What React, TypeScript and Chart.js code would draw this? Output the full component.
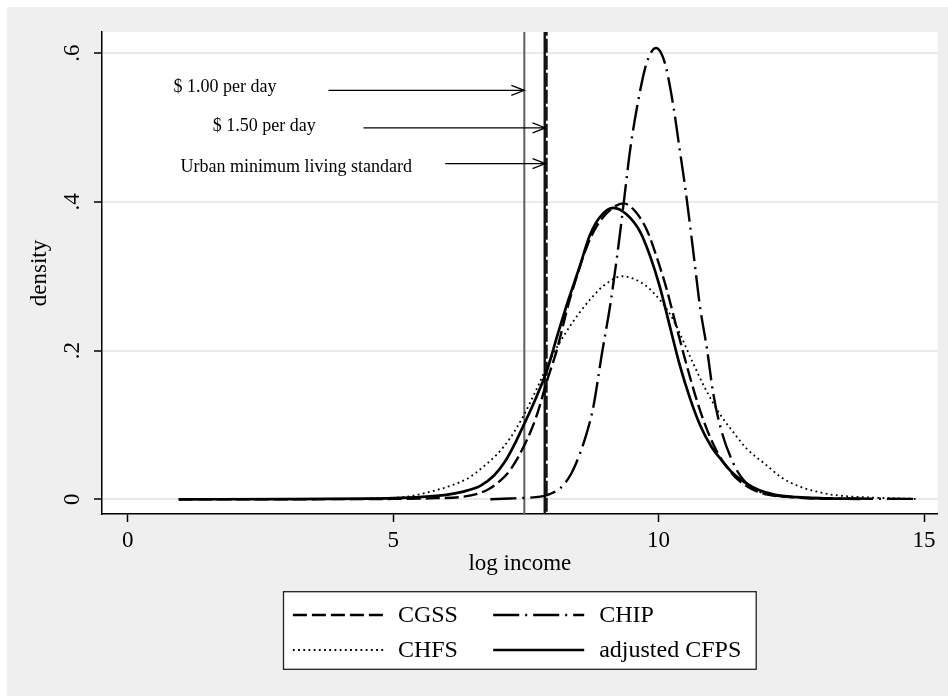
import React, { useEffect, useRef } from 'react';
import { Chart, registerables } from 'chart.js';

Chart.register(...registerables);

const FONT = '"Liberation Serif", "Times New Roman", serif';

// ---- data ----
const seriesLabels = ['CGSS', 'CHIP', 'CHFS', 'adjusted CFPS'];

const cgssX = [0.96, 3.0, 5.0, 5.8, 6.33, 6.77, 7.0, 7.2, 7.52, 7.7, 7.9, 8.08, 8.3, 8.46, 8.65, 8.84, 9.1, 9.34, 9.55, 9.78, 10.0, 10.15, 10.35, 10.53, 10.72, 10.91, 11.1, 11.28, 11.5, 11.75, 12.0, 12.5, 13.0, 13.5];
const cgssY = [0.0, 0.0001, 0.0005, 0.0015, 0.0035, 0.0125, 0.024, 0.039, 0.08, 0.112, 0.16, 0.2, 0.262, 0.3, 0.34, 0.368, 0.39, 0.398, 0.388, 0.362, 0.318, 0.283, 0.228, 0.18, 0.133, 0.094, 0.064, 0.044, 0.026, 0.014, 0.007, 0.003, 0.001, 0.0005];

const chipX = [6.83, 7.2, 7.5, 7.77, 7.95, 8.15, 8.35, 8.52, 8.65, 8.77, 8.93, 9.09, 9.24, 9.37, 9.46, 9.59, 9.75, 9.85, 9.95, 10.05, 10.14, 10.28, 10.39, 10.5, 10.65, 10.78, 10.91, 11.03, 11.18, 11.41, 11.6, 11.85, 12.2, 12.8, 13.5, 14.9];
const chipY = [0.0, 0.001, 0.002, 0.0035, 0.007, 0.015, 0.034, 0.062, 0.09, 0.124, 0.195, 0.262, 0.339, 0.415, 0.468, 0.526, 0.581, 0.6, 0.607, 0.6, 0.581, 0.528, 0.474, 0.42, 0.335, 0.259, 0.203, 0.142, 0.093, 0.048, 0.026, 0.012, 0.005, 0.002, 0.001, 0.0005];

const chfsX = [0.96, 4.0, 4.8, 5.26, 5.82, 6.15, 6.45, 6.7, 6.95, 7.2, 7.46, 7.7, 7.96, 8.25, 8.52, 8.75, 8.96, 9.31, 9.55, 9.78, 10.05, 10.28, 10.45, 10.65, 10.9, 11.16, 11.41, 11.66, 12.03, 12.3, 12.66, 13.0, 13.28, 13.8, 14.3, 14.9];
const chfsY = [0.0, 0.0005, 0.0015, 0.0035, 0.0125, 0.02, 0.03, 0.044, 0.06, 0.082, 0.113, 0.148, 0.188, 0.224, 0.252, 0.272, 0.287, 0.3, 0.296, 0.286, 0.266, 0.241, 0.215, 0.183, 0.146, 0.114, 0.09, 0.068, 0.046, 0.03, 0.017, 0.01, 0.006, 0.003, 0.0015, 0.0005];

const cfpsX = [0.96, 3.0, 4.5, 5.0, 5.5, 6.0, 6.3, 6.64, 6.9, 7.1, 7.3, 7.46, 7.7, 7.9, 8.1, 8.3, 8.5, 8.71, 8.9, 9.15, 9.4, 9.65, 9.85, 10.03, 10.2, 10.4, 10.6, 10.78, 11.0, 11.16, 11.4, 11.66, 11.9, 12.2, 12.6, 13.0, 13.8];
const cfpsY = [0.0, 0.0001, 0.0008, 0.0015, 0.003, 0.006, 0.01, 0.018, 0.032, 0.05, 0.076, 0.1, 0.138, 0.174, 0.222, 0.268, 0.31, 0.356, 0.38, 0.392, 0.383, 0.36, 0.325, 0.284, 0.236, 0.18, 0.134, 0.1, 0.07, 0.055, 0.035, 0.021, 0.012, 0.006, 0.003, 0.0015, 0.0005];

const xTicks = [0, 5, 10, 15];
const yTicks = [0, 0.2, 0.4, 0.6];
const yTickLabels = ['0', '.2', '.4', '.6'];

const povertyLineX = [7.47, 7.855, 7.89];

const annotationLabels = ['$ 1.00 per day', '$ 1.50 per day', 'Urban minimum living standard'];
const annotationTextX = [0.86, 1.6, 0.995];
const annotationTextY = [0.554, 0.502, 0.4465];
const arrowY = [0.55, 0.4995, 0.4515];
const arrowStartX = [3.78, 4.44, 5.98];
const arrowEndX = [7.47, 7.87, 7.87];

const xMin = -0.486;
const xMax = 15.258;
const yMin = -0.0198;
const yMax = 0.6285;

const toPoints = (xs: number[], ys: number[]) => xs.map((x, i) => ({ x, y: ys[i] }));

const bgPlugin = {
  id: 'bgPlugin',
  beforeDraw(chart: any) {
    const { ctx, chartArea: a, width, height } = chart;
    ctx.save();
    ctx.fillStyle = '#efefef';
    ctx.fillRect(0, 0, width, height);
    ctx.fillStyle = '#ffffff';
    ctx.fillRect(a.left, a.top, a.right - a.left, a.bottom - a.top);
    ctx.restore();
  },
};

const yLabelPlugin = {
  id: 'yLabelPlugin',
  afterDraw(chart: any) {
    const { ctx, chartArea: a } = chart;
    const ys = chart.scales.y;
    ctx.save();
    ctx.font = `23px ${FONT}`;
    ctx.fillStyle = '#000';
    ctx.textAlign = 'center';
    ctx.textBaseline = 'middle';
    yTicks.forEach((v, i) => {
      const py = ys.getPixelForValue(v);
      ctx.save();
      ctx.translate(a.left - 29, py);
      ctx.rotate(-Math.PI / 2);
      ctx.fillText(yTickLabels[i], 0, 0);
      ctx.restore();
    });
    ctx.restore();
  },
};

const annotationPlugin = {
  id: 'annotationPlugin',
  afterDatasetsDraw(chart: any) {
    const { ctx } = chart;
    const xs = chart.scales.x;
    const ys = chart.scales.y;
    ctx.save();
    ctx.font = `18px ${FONT}`;
    ctx.fillStyle = '#000';
    ctx.strokeStyle = '#000';
    ctx.lineWidth = 1.2;
    ctx.textAlign = 'left';
    ctx.textBaseline = 'middle';
    annotationLabels.forEach((label, i) => {
      ctx.fillText(label, xs.getPixelForValue(annotationTextX[i]), ys.getPixelForValue(annotationTextY[i]));
      const py = ys.getPixelForValue(arrowY[i]);
      const x0 = xs.getPixelForValue(arrowStartX[i]);
      const x1 = xs.getPixelForValue(arrowEndX[i]);
      ctx.beginPath();
      ctx.moveTo(x0, py);
      ctx.lineTo(x1, py);
      ctx.moveTo(x1 - 13, py - 5);
      ctx.lineTo(x1, py);
      ctx.lineTo(x1 - 13, py + 5);
      ctx.stroke();
    });
    ctx.restore();
  },
};

const legendPlugin = {
  id: 'legendPlugin',
  afterDraw(chart: any) {
    const { ctx, chartArea: a } = chart;
    const boxW = 472.7;
    const boxH = 77.6;
    const left = (a.left + a.right) / 2 - boxW / 2;
    const top = 584.7;
    ctx.save();
    ctx.fillStyle = '#ffffff';
    ctx.fillRect(left, top, boxW, boxH);
    ctx.strokeStyle = '#222';
    ctx.lineWidth = 1.3;
    ctx.strokeRect(left, top, boxW, boxH);
    const cols = [
      { l0: 9.4, l1: 100, t: 114.4 },
      { l0: 209.7, l1: 300.7, t: 315.7 },
    ];
    const rows = [23.3, 58.3];
    ctx.font = `24px ${FONT}`;
    ctx.fillStyle = '#000';
    ctx.textAlign = 'left';
    ctx.textBaseline = 'middle';
    for (let i = 0; i < 4; i++) {
      const ds: any = chart.data.datasets[i];
      const c = cols[i % 2];
      const r = rows[Math.floor(i / 2)];
      const y = top + r;
      ctx.save();
      ctx.strokeStyle = ds.borderColor;
      ctx.lineWidth = ds.borderWidth;
      ctx.setLineDash(ds.borderDash || []);
      ctx.beginPath();
      ctx.moveTo(left + c.l0, y);
      ctx.lineTo(left + c.l1, y);
      ctx.stroke();
      ctx.restore();
      ctx.fillText(ds.label, left + c.t, y + 1);
    }
    ctx.restore();
  },
};

export default function App() {
  const canvasRef = useRef<HTMLCanvasElement | null>(null);

  useEffect(() => {
    const canvas = canvasRef.current;
    if (!canvas) return;
    const common = {
      pointRadius: 0,
      pointHoverRadius: 0,
      fill: false,
      cubicInterpolationMode: 'monotone' as const,
      borderColor: '#000',
      borderCapStyle: 'butt' as const,
    };
    const vline = (x: number, color: string, width: number, dash: number[]) => ({
      label: '',
      data: [{ x, y: -1 }, { x, y: 1 }],
      borderColor: color,
      borderWidth: width,
      borderDash: dash,
      pointRadius: 0,
      clip: 0,
    });
    const chart = new Chart(canvas, {
      type: 'line',
      data: {
        datasets: [
          { ...common, label: seriesLabels[0], data: toPoints(cgssX, cgssY), borderWidth: 2.4, borderDash: [14, 5] },
          { ...common, label: seriesLabels[1], data: toPoints(chipX, chipY), borderWidth: 2.4, borderDash: [26, 6, 2, 6] },
          { ...common, label: seriesLabels[2], data: toPoints(chfsX, chfsY), borderWidth: 1.8, borderDash: [1.8, 3.4] },
          { ...common, label: seriesLabels[3], data: toPoints(cfpsX, cfpsY), borderWidth: 2.7, borderDash: [] },
          vline(povertyLineX[0], '#5f5f5f', 2, []),
          vline(povertyLineX[1], '#111', 2.4, []),
          vline(povertyLineX[2], '#111', 2.2, [14, 3]),
        ] as any,
      },
      options: {
        animation: false,
        responsive: false,
        devicePixelRatio: 1,
        layout: { padding: { left: 0, right: 10.3, top: 25, bottom: 0 } },
        plugins: {
          legend: { display: false },
          tooltip: { enabled: false },
        },
        elements: { line: { tension: 0 } },
        scales: {
          x: {
            type: 'linear',
            min: xMin,
            max: xMax,
            afterBuildTicks: (s: any) => {
              s.ticks = xTicks.map((v) => ({ value: v }));
            },
            afterFit: (s: any) => {
              s.height = 182;
            },
            grid: { drawOnChartArea: false, tickLength: 8, tickColor: '#000', tickWidth: 1.5 },
            border: { color: '#000', width: 1.5 },
            ticks: {
              color: '#000',
              font: { family: FONT, size: 23 },
              padding: 5,
              maxRotation: 0,
              minRotation: 0,
              callback: (v: any) => String(v),
            },
            title: {
              display: true,
              text: 'log income',
              color: '#000',
              font: { family: FONT, size: 23 },
              padding: { top: 0, bottom: 118 },
            },
          },
          y: {
            type: 'linear',
            min: yMin,
            max: yMax,
            afterBuildTicks: (s: any) => {
              s.ticks = yTicks.map((v) => ({ value: v }));
            },
            afterFit: (s: any) => {
              s.width = 95;
            },
            grid: { color: '#eaeaea', lineWidth: 2, tickLength: 8, tickColor: '#000', tickWidth: 1.5 },
            border: { color: '#000', width: 1.5 },
            ticks: { display: false },
            title: {
              display: true,
              text: 'density',
              color: '#000',
              font: { family: FONT, size: 23 },
              padding: { top: 19, bottom: 0 },
            },
          },
        },
      } as any,
      plugins: [bgPlugin, yLabelPlugin, annotationPlugin, legendPlugin],
    });
    return () => chart.destroy();
  }, []);

  return (
    <div style={{ position: 'fixed', left: 7, top: 7, width: 941, height: 689 }}>
      <canvas ref={canvasRef} width={941} height={689} style={{ width: 941, height: 689, display: 'block' }} />
    </div>
  );
}
